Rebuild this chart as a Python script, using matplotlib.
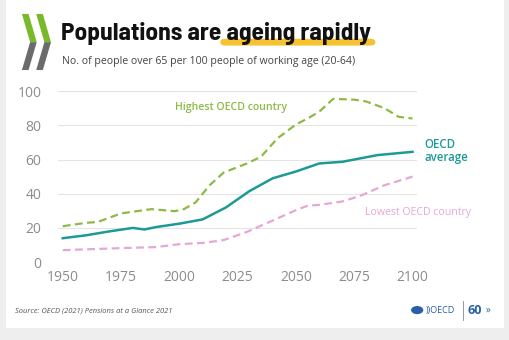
import matplotlib.pyplot as plt
from matplotlib.patches import Polygon, FancyBboxPatch, Circle

# old-age dependency ratio, people 65+ per 100 aged 20-64
years_avg = [1950, 1960, 1970, 1980, 1985, 1990, 2000, 2010, 2020, 2030, 2040, 2050, 2060, 2070, 2085, 2100]
oecd_avg = [14, 15.7, 18, 20, 19.1, 20.5, 22.5, 25, 32, 41.5, 49, 53, 57.7, 58.7, 62.6, 64.5]

years_high = [1950, 1960, 1965, 1975, 1988, 1998, 2002, 2007, 2013, 2019, 2029, 2035, 2042, 2050,
              2055, 2060, 2066, 2075, 2080, 2088, 2094, 2100]
highest = [21, 23, 23.5, 28.5, 31, 29.8, 31, 35, 45, 52.4, 57.7, 61.6, 72.3, 80.5, 84, 88, 95.5, 95,
           94, 90, 85, 84]

years_low = [1950, 1960, 1975, 1990, 2000, 2010, 2019, 2029, 2042, 2050, 2055, 2060, 2070, 2078, 2088, 2100]
lowest = [7, 7.5, 8.2, 8.8, 10.5, 11.2, 12.9, 17.7, 25.5, 30.4, 33, 33.5, 35.5, 39, 45, 50]

xticks = [1950, 1975, 2000, 2025, 2050, 2075, 2100]
yticks = [0, 20, 40, 60, 80, 100]

teal = '#1d9a96'
green = '#8dba45'
pink = '#e3a8d8'

fig = plt.figure(figsize=(5.1, 3.4), dpi=100)
fig.patch.set_facecolor('#eeeeee')
card = FancyBboxPatch((0.012, 0.035), 0.976, 0.965, boxstyle='square,pad=0', zorder=-5,
                      transform=fig.transFigure, facecolor='white', edgecolor='none')
fig.patches.append(card)

# chevron logo: green upper stroke, grey lower stroke
w = 0.013
tip = 0.016
for x0 in (0.043, 0.071):
    top = Polygon([(x0, 0.959), (x0 + w, 0.959), (x0 + w + tip, 0.876), (x0 + tip, 0.876)],
                  closed=True, transform=fig.transFigure, facecolor='#7ab929', edgecolor='none')
    bot = Polygon([(x0 + tip, 0.876), (x0 + w + tip, 0.876), (x0 + w, 0.794), (x0, 0.794)],
                  closed=True, transform=fig.transFigure, facecolor='#6b6b6b', edgecolor='none')
    fig.patches.extend([top, bot])

# title with highlighter stroke behind the last two words
hl = FancyBboxPatch((0.432, 0.866), 0.304, 0.02, boxstyle='round,pad=0,rounding_size=0.01',
                    transform=fig.transFigure, facecolor='#f6c230', edgecolor='none')
fig.patches.append(hl)
fig.text(0.12, 0.882, 'Populations are ageing rapidly', fontsize=18.3, fontweight='bold',
         family=['Barlow Semi Condensed', 'DejaVu Sans'], color='#111111', va='baseline')
fig.text(0.121, 0.818, 'No. of people over 65 per 100 people of working age (20-64)',
         fontsize=7.6, family='Open Sans', color='#444444', va='center')

ax = fig.add_axes([0.114, 0.229, 0.704, 0.503])
ax.plot(years_high, highest, color=green, lw=1.6, ls=(0, (3.5, 2)))
ax.plot(years_low, lowest, color=pink, lw=1.6, ls=(0, (3.5, 2)))
ax.plot(years_avg, oecd_avg, color=teal, lw=1.8)

ax.set_xlim(1948, 2102)
ax.set_ylim(0, 100)
ax.set_xticks(xticks)
ax.set_yticks(yticks)
ax.grid(axis='y', color='#e4e4e4', lw=0.8)
ax.set_axisbelow(True)
ax.set_facecolor('none')
for s in ax.spines.values():
    s.set_visible(False)
ax.tick_params(length=0, labelsize=10, labelcolor='#8c8c8c', pad=6)
ax.tick_params(axis='y', pad=12)
for lab in ax.get_xticklabels() + ax.get_yticklabels():
    lab.set_family('Open Sans')

ax.text(2022, 90.5, 'Highest OECD country', color=green, fontsize=7.6, family='Open Sans',
        ha='center', va='center', fontweight='semibold')
ax.text(2105, 65, 'OECD\naverage', color=teal, fontsize=8.3, family='Open Sans',
        ha='left', va='center', fontweight='semibold', linespacing=1.0, clip_on=False)
ax.text(2102.5, 28.8, 'Lowest OECD country', color=pink, fontsize=7.6, family='Open Sans',
        ha='center', va='center', clip_on=False)

fig.text(0.03, 0.084, 'Source: OECD (2021) Pensions at a Glance 2021', fontsize=5.4,
         family='Open Sans', style='italic', color='#555555', va='center')

# OECD 60 badge
fig.patches.append(Circle((0.818, 0.088), 0.012, transform=fig.transFigure,
                          facecolor='#2b5fa8', edgecolor='none'))
fig.text(0.835, 0.088, '))OECD', fontsize=6.5, color='#2b5fa8', va='center', family='Open Sans')
fig.lines.append(plt.Line2D([0.908, 0.908], [0.06, 0.115], transform=fig.transFigure,
                            color='#888888', lw=0.6))
fig.text(0.916, 0.088, '60', fontsize=9, color='#2b5fa8', va='center', fontweight='bold',
         family='Open Sans')
fig.text(0.952, 0.088, '»', fontsize=7, color='#2b5fa8', va='center', family='Open Sans')

fig.savefig('out.png', dpi=100, facecolor=fig.get_facecolor())
